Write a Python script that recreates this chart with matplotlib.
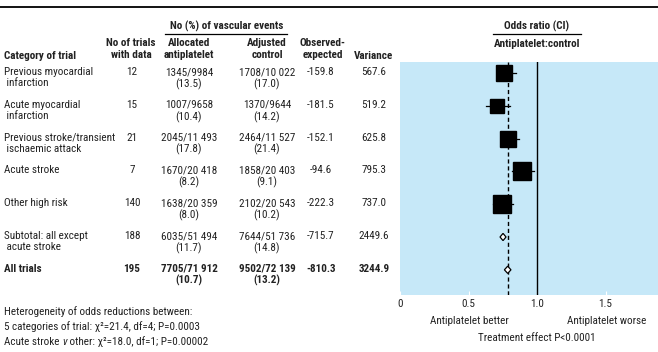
import matplotlib as mpl
mpl.use('Agg')
import matplotlib.pyplot as plt
from matplotlib.patches import Polygon

# table data
categories = ["Previous myocardial\n infarction", "Acute myocardial\n infarction",
              "Previous stroke/transient\n ischaemic attack", "Acute stroke",
              "Other high risk", "Subtotal: all except\n acute stroke", "All trials"]
n_trials = ["12", "15", "21", "7", "140", "188", "195"]
alloc_events = ["1345/9984", "1007/9658", "2045/11 493", "1670/20 418",
                "1638/20 359", "6035/51 494", "7705/71 912"]
alloc_pct = ["(13.5)", "(10.4)", "(17.8)", "(8.2)", "(8.0)", "(11.7)", "(10.7)"]
ctrl_events = ["1708/10 022", "1370/9644", "2464/11 527", "1858/20 403",
               "2102/20 543", "7644/51 736", "9502/72 139"]
ctrl_pct = ["(17.0)", "(14.2)", "(21.4)", "(9.1)", "(10.2)", "(14.8)", "(13.2)"]
obs_exp = ["-159.8", "-181.5", "-152.1", "-94.6", "-222.3", "-715.7", "-810.3"]
variance = [567.6, 519.2, 625.8, 795.3, 737.0, 2449.6, 3244.9]

# odds ratios
odds_ratio = [0.76, 0.71, 0.79, 0.89, 0.745, 0.752, 0.786]
ci_low = [0.71, 0.63, 0.735, 0.82, 0.68, 0.73, 0.762]
ci_high = [0.85, 0.80, 0.87, 0.98, 0.825, 0.774, 0.81]
is_summary = [False, False, False, False, False, True, True]
overall_or = 0.786

xticks = [0, 0.5, 1.0, 1.5]
xticklabels = ["0", "0.5", "1.0", "1.5"]

FONT = ['Roboto Condensed', 'DejaVu Sans']
mpl.rcParams.update({'font.family': FONT, 'font.size': 8})
TXT = '#222222'

W, H = 658, 352
fig = plt.figure(figsize=(W / 100, H / 100), dpi=100)

# pixel-coordinate canvas for the table text
bg = fig.add_axes([0, 0, 1, 1])
bg.set_xlim(0, W)
bg.set_ylim(H, 0)
bg.axis('off')

# forest panel
row0, rowstep = 73, 32.8
ptop, pbot, pleft = 62, 295, 400
ax = fig.add_axes([pleft / W, 1 - pbot / H, (W - pleft) / W, (pbot - ptop) / H])
ax.set_facecolor('#c6e8f8')
for s in ax.spines.values():
    s.set_visible(False)
ax.set_xlim(0, (W - pleft) / 137.0)
ax.set_ylim((pbot - row0) / rowstep, (ptop - row0) / rowstep)
ax.set_xticks(xticks)
ax.set_xticklabels(xticklabels)
ax.tick_params(axis='x', direction='in', length=3, color='white', pad=3,
               labelsize=8, labelcolor=TXT)
ax.set_yticks([])

ax.axvline(1.0, color='black', lw=1.0, zorder=2)
ax.axvline(overall_or, color='black', lw=1.0, ls=(0, (3, 2)), zorder=2)

for i in range(len(categories)):
    if is_summary[i]:
        d = 0.11
        poly = Polygon([(ci_low[i], i), (odds_ratio[i], i - d), (ci_high[i], i),
                        (odds_ratio[i], i + d)], closed=True, facecolor='white',
                       edgecolor='black', lw=0.9, zorder=4)
        ax.add_patch(poly)
    else:
        ax.plot([ci_low[i], ci_high[i]], [i, i], color='black', lw=0.9, zorder=3)
        size_px = 0.64 * variance[i] ** 0.5
        ax.plot(odds_ratio[i], i, marker='s', color='black',
                markersize=size_px * 0.72, zorder=4)

# top rule and header
bg.plot([0, W], [7, 7], color='black', lw=1.3)
bg.text(227, 26, "No (%) of vascular events", ha='center', va='center', fontweight='bold', color=TXT)
bg.plot([165, 287], [34, 34], color='black', lw=0.9)
bg.text(537, 26, "Odds ratio (CI)", ha='center', va='center', fontweight='bold', color=TXT)
bg.plot([493, 581], [34, 34], color='black', lw=0.9)
bg.text(537, 44, "Antiplatelet:control", ha='center', va='center', fontweight='bold', color=TXT)

hdr = dict(ha='center', va='center', fontweight='bold', linespacing=1.25, color=TXT)
bg.text(4, 56, "Category of trial", ha='left', va='center', fontweight='bold', color=TXT)
bg.text(131, 49, "No of trials\nwith data", **hdr)
bg.text(189, 49, "Allocated\nantiplatelet", **hdr)
bg.text(267, 49, "Adjusted\ncontrol", **hdr)
bg.text(323, 49, "Observed-\nexpected", **hdr)
bg.text(374, 56, "Variance", **hdr)

# table rows
for i in range(len(categories)):
    y = row0 + rowstep * i
    fw = 'bold' if i == len(categories) - 1 else 'normal'
    kw = dict(va='top', fontweight=fw, linespacing=1.15, color=TXT)
    y0 = y - 6
    bg.text(4, y0, categories[i], ha='left', **kw)
    bg.text(132, y0, n_trials[i], ha='center', **kw)
    bg.text(189, y0, alloc_events[i] + "\n" + alloc_pct[i], ha='center', **kw)
    bg.text(267, y0, ctrl_events[i] + "\n" + ctrl_pct[i], ha='center', **kw)
    bg.text(321, y0, obs_exp[i], ha='center', **kw)
    bg.text(374, y0, "%.1f" % variance[i], ha='center', **kw)

# footer
bg.text(4, 312, "Heterogeneity of odds reductions between:", ha='left', va='center', color=TXT)
bg.text(4, 327, "5 categories of trial: \u03c7\u00b2=21.4, df=4; P=0.0003", ha='left', va='center', color=TXT)
renderer = fig.canvas.get_renderer()
t1 = bg.text(4, 342, "Acute stroke ", ha='left', va='center', color=TXT)
x1 = bg.transData.inverted().transform(t1.get_window_extent(renderer))[1][0]
t2 = bg.text(x1, 342, "v", ha='left', va='center', style='italic', color=TXT)
x2 = bg.transData.inverted().transform(t2.get_window_extent(renderer))[1][0]
bg.text(x2, 342, " other: \u03c7\u00b2=18.0, df=1; P=0.00002", ha='left', va='center', color=TXT)

bg.text(469, 321, "Antiplatelet better", ha='center', va='center', color=TXT)
bg.text(607, 321, "Antiplatelet worse", ha='center', va='center', color=TXT)
bg.text(537, 338, "Treatment effect P<0.0001", ha='center', va='center', color=TXT)

fig.savefig("out.png", dpi=100)
